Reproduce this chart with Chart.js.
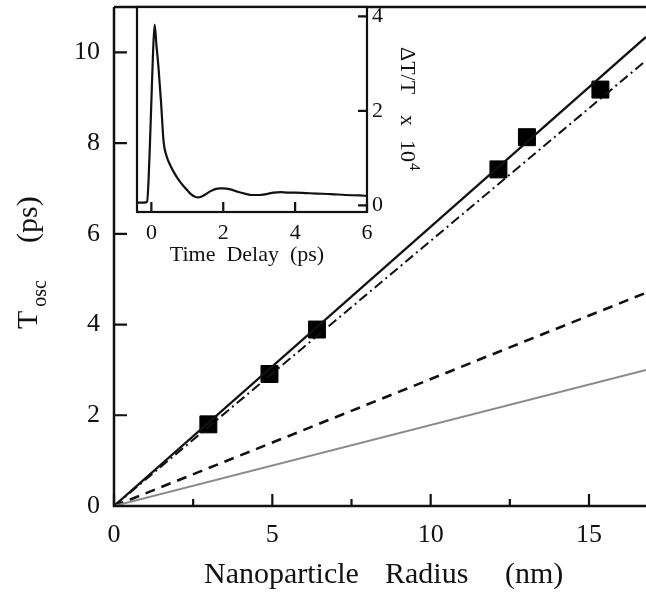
<!DOCTYPE html>
<html>
<head>
<meta charset="utf-8">
<script src="https://cdn.jsdelivr.net/npm/chart.js@4.4.1/dist/chart.umd.min.js"></script>
<style>
  html, body { margin: 0; padding: 0; background: #fff; }
  #wrap { position: relative; width: 646px; height: 593px; }
  #mainChart { position: absolute; left: 0; top: 0; }
  #insetChart { position: absolute; left: 130px; top: 0; }
</style>
</head>
<body>
<div id="wrap">
  <canvas id="mainChart" width="646" height="593"></canvas>
  <canvas id="insetChart" width="300" height="275"></canvas>
</div>
<script>
// main plot: oscillation period vs nanoparticle radius
var measuredRadius = [2.98, 4.91, 6.41, 12.14, 13.04, 15.36];
var measuredPeriod = [1.8, 2.91, 3.89, 7.42, 8.13, 9.18];

// model lines (values at radius 0 and at the right edge)
var modelRadius = [0, 16.8];
var solidModel = [0, 10.34];
var dashDotModel = [0, 9.82];
var dashedModel = [0, 4.7];
var dottedModel = [0, 3.0];

var mainXTicks = [0, 5, 10, 15];
var mainXMinorTicks = [2.5, 7.5, 12.5];
var mainYTicks = [0, 2, 4, 6, 8, 10];

// inset: transient transmission vs time delay
var delayTime = [-0.4, -0.2, -0.12, -0.08, -0.04, 0, 0.04, 0.09, 0.14, 0.2, 0.27, 0.34, 0.42, 0.52, 0.62,
    0.75, 0.88, 1.0, 1.1, 1.2, 1.3, 1.4, 1.5, 1.6, 1.7, 1.8, 1.9, 2.0, 2.2, 2.4, 2.6, 2.8, 3.0, 3.2, 3.4,
    3.6, 3.8, 4.0, 4.3, 4.6, 5.0, 5.4, 5.8, 6.0];
var deltaT = [0.06, 0.06, 0.08, 0.5, 1.3, 2.2, 3.1, 3.83, 3.4, 2.9, 2.17, 1.35, 1.05, 0.86, 0.71,
    0.55, 0.42, 0.32, 0.24, 0.19, 0.17, 0.19, 0.23, 0.28, 0.32, 0.35, 0.36, 0.36, 0.34, 0.29, 0.25, 0.22, 0.22, 0.24, 0.27,
    0.28, 0.27, 0.27, 0.26, 0.25, 0.24, 0.22, 0.21, 0.2];

var insetXTicks = [0, 2, 4, 6];
var insetYTicks = [0, 2, 4];

var SERIF = "'Liberation Serif', 'Times New Roman', serif";

function toPoints(xs, ys) {
    return xs.map(function (x, i) { return { x: x, y: ys[i] }; });
}

function fixedTicks(values) {
    return function (scale) {
        scale.ticks = values.map(function (v) { return { value: v }; });
    };
}

// force the size of an axis box and drop the extra room for end labels
function fitTo(size) {
    return function (s) {
        if (s.isHorizontal()) {
            s.height = size;
        } else {
            s.width = size;
        }
        s.paddingTop = 0;
        s.paddingBottom = 0;
        s.paddingLeft = 0;
        s.paddingRight = 0;
    };
}

function lineSet(ys, color, width, dash) {
    return {
        data: toPoints(modelRadius, ys),
        showLine: true,
        borderColor: color,
        borderWidth: width,
        borderDash: dash,
        pointRadius: 0,
        fill: false
    };
}

// frame, inward ticks and axis titles of the main plot
var mainFrame = {
    id: "mainFrame",
    afterDraw: function (chart) {
        var ctx = chart.ctx;
        var a = chart.chartArea;
        var xs = chart.scales.x;
        var ys = chart.scales.y;
        ctx.save();
        ctx.strokeStyle = "#111";
        ctx.lineWidth = 2.5;
        ctx.beginPath();
        ctx.moveTo(a.left, a.top);
        ctx.lineTo(a.right, a.top);
        ctx.moveTo(a.left, a.top);
        ctx.lineTo(a.left, a.bottom);
        ctx.lineTo(a.right, a.bottom);
        ctx.stroke();

        ctx.lineWidth = 2.2;
        ctx.beginPath();
        mainYTicks.forEach(function (v) {
            var py = ys.getPixelForValue(v);
            ctx.moveTo(a.left, py);
            ctx.lineTo(a.left + 13, py);
        });
        mainXTicks.forEach(function (v) {
            var px = xs.getPixelForValue(v);
            ctx.moveTo(px, a.bottom);
            ctx.lineTo(px, a.bottom - 12);
        });
        mainXMinorTicks.forEach(function (v) {
            var px = xs.getPixelForValue(v);
            ctx.moveTo(px, a.bottom);
            ctx.lineTo(px, a.bottom - 7);
        });
        ctx.stroke();

        // x title
        ctx.fillStyle = "#111";
        ctx.textBaseline = "alphabetic";
        ctx.textAlign = "left";
        ctx.font = "30px " + SERIF;
        ctx.fillText("Nanoparticle", 204, 583);
        ctx.fillText("Radius", 385, 583);
        ctx.fillText("(nm)", 505, 583);

        // y title, rotated, with subscript
        ctx.translate(37, 0);
        ctx.rotate(-Math.PI / 2);
        ctx.font = "30px " + SERIF;
        ctx.fillText("T", -329, 0);
        var tw = ctx.measureText("T").width;
        ctx.font = "20px " + SERIF;
        ctx.fillText("osc", -329 + tw + 4, 9);
        ctx.font = "30px " + SERIF;
        ctx.fillText("(ps)", -243, 0);
        ctx.restore();
    }
};

// white plot background, box, inward ticks and titles of the inset
var insetFrame = {
    id: "insetFrame",
    beforeDraw: function (chart) {
        var ctx = chart.ctx;
        var a = chart.chartArea;
        ctx.save();
        ctx.fillStyle = "#fff";
        ctx.fillRect(a.left, a.top, a.right - a.left, a.bottom - a.top);
        ctx.restore();
    },
    afterDraw: function (chart) {
        var ctx = chart.ctx;
        var a = chart.chartArea;
        var xs = chart.scales.x;
        var ys = chart.scales.y;
        ctx.save();
        ctx.strokeStyle = "#111";
        ctx.lineWidth = 2.2;
        ctx.strokeRect(a.left, a.top, a.right - a.left, a.bottom - a.top);
        ctx.beginPath();
        insetXTicks.forEach(function (v) {
            var px = xs.getPixelForValue(v);
            ctx.moveTo(px, a.bottom);
            ctx.lineTo(px, a.bottom - 10);
        });
        insetYTicks.forEach(function (v) {
            var py = ys.getPixelForValue(v);
            ctx.moveTo(a.right, py);
            ctx.lineTo(a.right - 9, py);
        });
        ctx.stroke();

        ctx.fillStyle = "#111";
        ctx.font = "22px " + SERIF;
        ctx.textAlign = "center";
        ctx.textBaseline = "alphabetic";
        ctx.fillText("Time  Delay  (ps)", (a.left + a.right) / 2 - 5, 261);

        // right title, rotated clockwise, with superscript
        ctx.textAlign = "left";
        ctx.translate(401 - 130, 0);
        ctx.rotate(Math.PI / 2);
        ctx.fillText("\u0394T/T", 47, 0);
        ctx.fillText("x", 115, 0);
        ctx.fillText("10", 140, 0);
        var w10 = ctx.measureText("10").width;
        ctx.font = "15px " + SERIF;
        ctx.fillText("4", 140 + w10 + 1, -9);
        ctx.restore();
    }
};

// main chart
new Chart(document.getElementById("mainChart").getContext("2d"), {
    type: "scatter",
    data: {
        datasets: [
            lineSet(dottedModel, "#8a8a8a", 2, []),
            lineSet(dashedModel, "#111", 2.6, [10, 7]),
            lineSet(dashDotModel, "#111", 2, [10, 4, 2, 4]),
            lineSet(solidModel, "#111", 2.2, []),
            {
                data: toPoints(measuredRadius, measuredPeriod),
                showLine: false,
                pointStyle: "rect",
                pointRadius: 12,
                pointBackgroundColor: "#000",
                pointBorderColor: "#000",
                pointBorderWidth: 1
            }
        ]
    },
    options: {
        responsive: false,
        animation: false,
        layout: { autoPadding: false, padding: { top: 7, right: 0, left: 0, bottom: 0 } },
        plugins: { legend: { display: false }, tooltip: { enabled: false } },
        scales: {
            x: {
                type: "linear",
                min: 0,
                max: 16.8,
                afterFit: fitTo(87),
                afterBuildTicks: fixedTicks(mainXTicks),
                grid: { display: false, drawTicks: false },
                border: { display: false },
                ticks: { color: "#111", padding: 14, font: { size: 26, family: SERIF } }
            },
            y: {
                type: "linear",
                min: 0,
                max: 11,
                afterFit: fitTo(114),
                afterBuildTicks: fixedTicks(mainYTicks),
                grid: { display: false, drawTicks: false },
                border: { display: false },
                ticks: { color: "#111", padding: 14, font: { size: 26, family: SERIF } }
            }
        }
    },
    plugins: [mainFrame]
});

// inset chart
new Chart(document.getElementById("insetChart").getContext("2d"), {
    type: "scatter",
    data: {
        datasets: [
            {
                data: toPoints(delayTime, deltaT),
                showLine: true,
                borderColor: "#111",
                borderWidth: 2.2,
                cubicInterpolationMode: "monotone",
                pointRadius: 0
            }
        ]
    },
    options: {
        responsive: false,
        animation: false,
        layout: { autoPadding: false, padding: { top: 7, left: 7, right: 0, bottom: 0 } },
        plugins: { legend: { display: false }, tooltip: { enabled: false } },
        scales: {
            x: {
                type: "linear",
                min: -0.4,
                max: 6,
                afterFit: fitTo(63),
                afterBuildTicks: fixedTicks(insetXTicks),
                grid: { display: false, drawTicks: false },
                border: { display: false },
                ticks: { color: "#111", padding: 8, font: { size: 22, family: SERIF } }
            },
            y: {
                type: "linear",
                position: "right",
                min: -0.14,
                max: 4.2,
                afterFit: fitTo(63),
                afterBuildTicks: fixedTicks(insetYTicks),
                grid: { display: false, drawTicks: false },
                border: { display: false },
                ticks: { color: "#111", padding: 5, font: { size: 22, family: SERIF } }
            }
        }
    },
    plugins: [insetFrame]
});
</script>
</body>
</html>
